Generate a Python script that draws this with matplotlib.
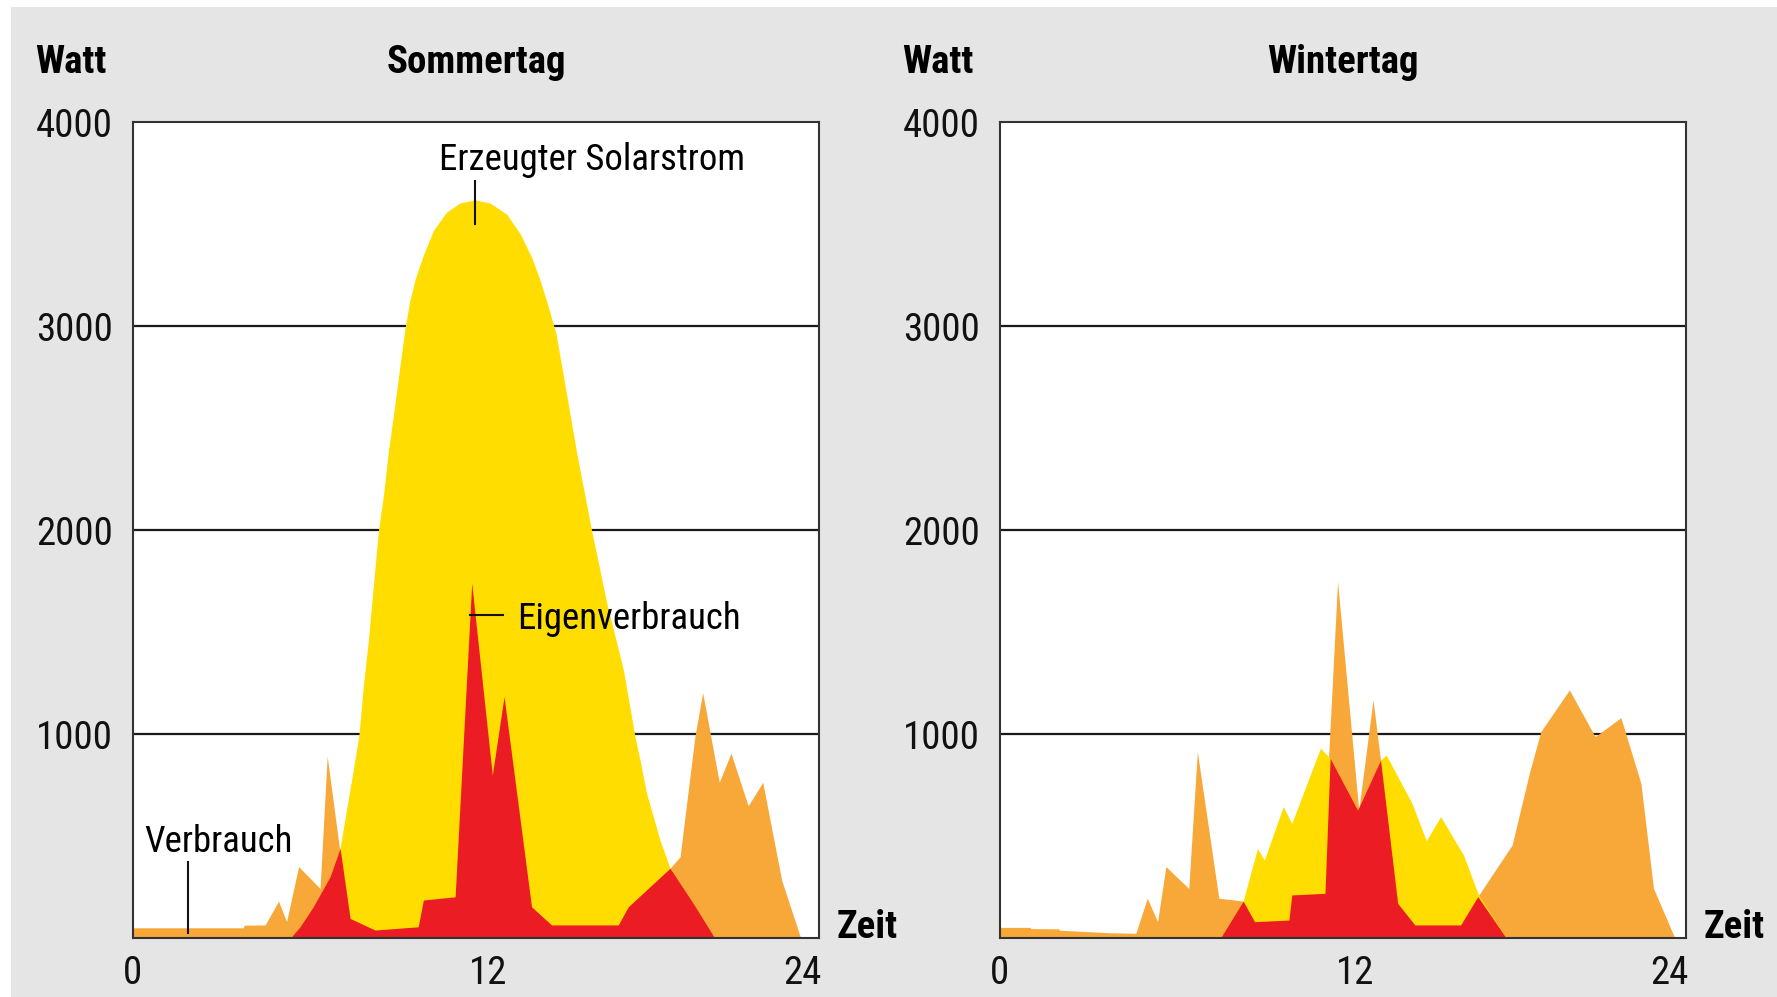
import matplotlib
matplotlib.use('Agg')
import matplotlib.pyplot as plt
from matplotlib.patches import Rectangle
from matplotlib.transforms import ScaledTranslation

plt.rcParams['font.family'] = ['Roboto Condensed', 'Archivo Narrow', 'Barlow Condensed',
                               'Liberation Sans Narrow', 'DejaVu Sans']

# Farben
GELB = '#ffdd00'
ORANGE = '#f7a839'
ROT = '#ec1c24'
GRAU = '#e5e5e5'

# Sommertag: Verbrauch, erzeugter Solarstrom, Eigenverbrauch (Stunde, Watt)
sommer_verbrauch_h = [0, 3.87, 3.9, 4.63, 5.1, 5.38, 5.8, 6.55, 6.8, 7.22, 7.6, 8.47, 9.98, 10.16,
                      11.27, 11.85, 12.57, 12.98, 13.94, 14.64, 16.97, 17.32, 18.78, 19.13, 19.65,
                      19.92, 20.5, 20.91, 21.51, 22.02, 22.68, 23.35]
sommer_verbrauch_w = [52, 52, 65, 66, 183, 82, 352, 245, 894, 450, 98, 41, 57, 188,
                      204, 1741, 801, 1185, 155, 66, 66, 155, 344, 400, 989,
                      1205, 765, 908, 650, 765, 286, 0]

sommer_solar_h = [5.5, 5.85, 6.31, 6.9, 7.25, 7.77, 7.91, 8.06, 8.24, 8.41, 8.59, 8.76, 8.93,
                  9.17, 9.40, 9.53, 9.68, 9.87, 10.16, 10.51, 10.97, 11.44, 11.96, 12.49, 13.07,
                  13.54, 13.94, 14.23, 14.52, 14.80, 15.05, 15.52, 16.04, 16.57, 17.15, 17.55,
                  17.73, 17.96, 18.43, 18.78, 19.59, 20.35]
sommer_solar_w = [0, 57, 155, 303, 442, 875, 997, 1234, 1463, 1724, 1999, 2165, 2378,
                  2623, 2868, 3000, 3120, 3230, 3350, 3470, 3560, 3605, 3620, 3605, 3550,
                  3455, 3340, 3230, 3100, 2960, 2760, 2378, 1999, 1643, 1316, 992,
                  875, 711, 482, 344, 172, 0]

sommer_eigen_h = [5.5, 5.85, 6.31, 6.9, 7.25, 7.6, 8.47, 9.98, 10.16, 11.27, 11.85, 12.57, 12.98,
                  13.94, 14.64, 16.97, 17.32, 18.78, 19.59, 20.35]
sommer_eigen_w = [0, 57, 155, 303, 442, 98, 41, 57, 188, 204, 1741, 801, 1185,
                  155, 66, 66, 155, 344, 172, 0]

# Wintertag
winter_verbrauch_h = [0, 1.06, 1.1, 2.05, 2.1, 3.82, 4.76, 5.16, 5.52, 5.81, 6.61, 6.91, 7.66,
                      8.51, 8.91, 10.11, 10.21, 11.37, 11.5, 11.81, 12.55, 13.05, 13.31, 13.91,
                      14.51, 16.11, 16.71, 17.91, 18.51, 18.91, 19.91, 20.81, 21.71, 22.41,
                      22.85, 23.6]
winter_verbrauch_w = [54, 54, 48, 47, 40, 28, 25, 197, 82, 352, 245, 915, 197,
                      183, 82, 90, 213, 221, 900, 1749, 629, 1169, 874, 172,
                      66, 66, 205, 458, 809, 1013, 1218, 989, 1082, 760,
                      245, 0]

winter_solar_h = [7.71, 8.51, 9.01, 9.25, 9.91, 10.21, 11.21, 11.55, 12.51, 13.31, 13.51, 14.41,
                  14.91, 15.41, 16.21, 16.71, 17.71]
winter_solar_w = [0, 183, 441, 384, 646, 564, 932, 883, 629, 874, 899, 662,
                  479, 597, 409, 221, 0]

winter_eigen_h = [7.71, 8.51, 8.91, 10.11, 10.21, 11.37, 11.55, 12.51, 13.31, 13.91, 14.51, 16.11,
                  16.71, 17.71]
winter_eigen_w = [0, 183, 82, 90, 213, 221, 883, 629, 874, 172, 66, 66,
                  205, 0]

x_ticks = [0, 12, 24]
y_ticks = [1000, 2000, 3000, 4000]

W, H = 1777, 997
fig = plt.figure(figsize=(W / 100, H / 100), dpi=100, facecolor=GRAU)
# weisser Rand oben und links
fig.patches.append(Rectangle((0, 1 - 7 / H), 1, 7 / H, transform=fig.transFigure,
                             facecolor='white', edgecolor='none'))
fig.patches.append(Rectangle((0, 0), 11 / W, 1, transform=fig.transFigure,
                             facecolor='white', edgecolor='none'))


def panel(left_px, titel, verbrauch, solar, eigen):
    ax = fig.add_axes([left_px / W, 1 - 938.4 / H, 686.8 / W, 816 / H])
    ax.set_facecolor('white')
    ax.fill_between(verbrauch[0], verbrauch[1], color=ORANGE, lw=0, zorder=2)
    ax.fill_between(solar[0], solar[1], color=GELB, lw=0, zorder=3)
    ax.fill_between(eigen[0], eigen[1], color=ROT, lw=0, zorder=4)
    for y in y_ticks[:-1]:
        ax.axhline(y, color='#1a1a1a', lw=1.6, zorder=1)
    ax.set_xlim(0, 24)
    ax.set_ylim(0, 4000)
    ax.set_xticks(x_ticks)
    ax.set_yticks(y_ticks)
    ax.tick_params(length=0, labelsize=28, colors='#111111')
    ax.tick_params(axis='y', pad=14)
    ax.tick_params(axis='x', pad=12)
    # Beschriftung "12" und "24" sitzen im Original leicht versetzt
    for lab, dx in zip(ax.get_xticklabels(), [0, 12, -17]):
        lab.set_transform(lab.get_transform() + ScaledTranslation(dx / 100, 0, fig.dpi_scale_trans))
    for s in ax.spines.values():
        s.set_color('#333333')
        s.set_linewidth(1.5)
        s.set_zorder(6)
    ax.text(24.6, 0, 'Zeit', fontsize=28, fontweight='bold', ha='left', va='baseline',
            clip_on=False)
    fig.text((left_px - 97.6) / W, 1 - 73 / H, 'Watt', fontsize=28,
             fontweight='bold', ha='left', va='baseline')
    fig.text((left_px + 343.4) / W, 1 - 73 / H, titel, fontsize=28, fontweight='bold',
             ha='center', va='baseline')
    return ax


ax1 = panel(132.6, 'Sommertag', (sommer_verbrauch_h, sommer_verbrauch_w),
            (sommer_solar_h, sommer_solar_w), (sommer_eigen_h, sommer_eigen_w))
ax2 = panel(999.6, 'Wintertag', (winter_verbrauch_h, winter_verbrauch_w),
            (winter_solar_h, winter_solar_w), (winter_eigen_h, winter_eigen_w))

# Beschriftungen im Sommerdiagramm
ax1.text(10.7, 3767, 'Erzeugter Solarstrom', fontsize=26.5, ha='left', va='baseline', zorder=7)
ax1.plot([11.96, 11.96], [3713, 3502], color='#111111', lw=1.5, zorder=7)
ax1.text(13.44, 1515, 'Eigenverbrauch', fontsize=26.5, ha='left', va='baseline', zorder=7)
ax1.plot([11.79, 12.93], [1585, 1585], color='#111111', lw=1.5, zorder=7)
ax1.text(0.4, 423, 'Verbrauch', fontsize=26.5, ha='left', va='baseline', zorder=7)
ax1.plot([1.95, 1.95], [376, 25], color='#111111', lw=1.5, zorder=7)

plt.savefig('out.png', dpi=100, facecolor=fig.get_facecolor())
